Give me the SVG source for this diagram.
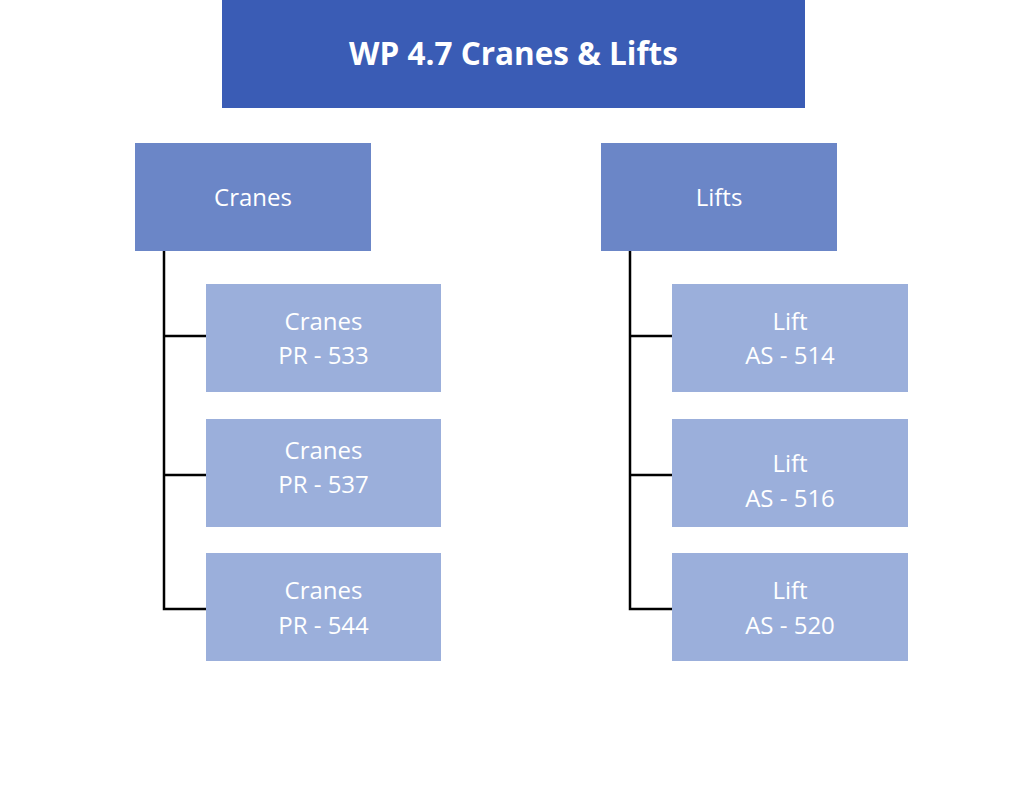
<svg xmlns="http://www.w3.org/2000/svg" width="1024" height="799" viewBox="0 0 1024 799">
<style>
.t{font-family:"Open Sans","Liberation Sans",sans-serif;fill:#fff;text-anchor:middle}
.h{font-size:31.5px;font-weight:bold}
.m{font-size:24px}
.l1{fill:#3A5CB5}
.l2{fill:#6B86C7}
.l3{fill:#9BAFDB}
.c{stroke:#000;stroke-width:2.5;fill:none}
</style>
<rect width="1024" height="799" fill="#fff"/>
<g id="connectors">
<path class="c" d="M164 251V609H206M164 336H206M164 475H206"/>
<path class="c" d="M630 251V609H672M630 336H672M630 475H672"/>
</g>
<g id="title"><rect class="l1" x="222" y="0" width="583" height="108"/><text class="t h" x="513.5" y="65">WP 4.7 Cranes &amp; Lifts</text></g>
<g id="cranes"><rect class="l2" x="135" y="143" width="236" height="108"/><text class="t m" x="253" y="206">Cranes</text></g>
<g id="lifts"><rect class="l2" x="601" y="143" width="236" height="108"/><text class="t m" x="719" y="206">Lifts</text></g>
<g id="pr533"><rect class="l3" x="206" y="284" width="235" height="108"/><text class="t m" x="323.5" y="330">Cranes</text><text class="t m" x="323.5" y="364">PR - 533</text></g>
<g id="pr537"><rect class="l3" x="206" y="419" width="235" height="108"/><text class="t m" x="323.5" y="459">Cranes</text><text class="t m" x="323.5" y="493">PR - 537</text></g>
<g id="pr544"><rect class="l3" x="206" y="553" width="235" height="108"/><text class="t m" x="323.5" y="599">Cranes</text><text class="t m" x="323.5" y="634">PR - 544</text></g>
<g id="as514"><rect class="l3" x="672" y="284" width="236" height="108"/><text class="t m" x="790" y="330">Lift</text><text class="t m" x="790" y="364">AS - 514</text></g>
<g id="as516"><rect class="l3" x="672" y="419" width="236" height="108"/><text class="t m" x="790" y="472">Lift</text><text class="t m" x="790" y="507">AS - 516</text></g>
<g id="as520"><rect class="l3" x="672" y="553" width="236" height="108"/><text class="t m" x="790" y="599">Lift</text><text class="t m" x="790" y="634">AS - 520</text></g>
</svg>
